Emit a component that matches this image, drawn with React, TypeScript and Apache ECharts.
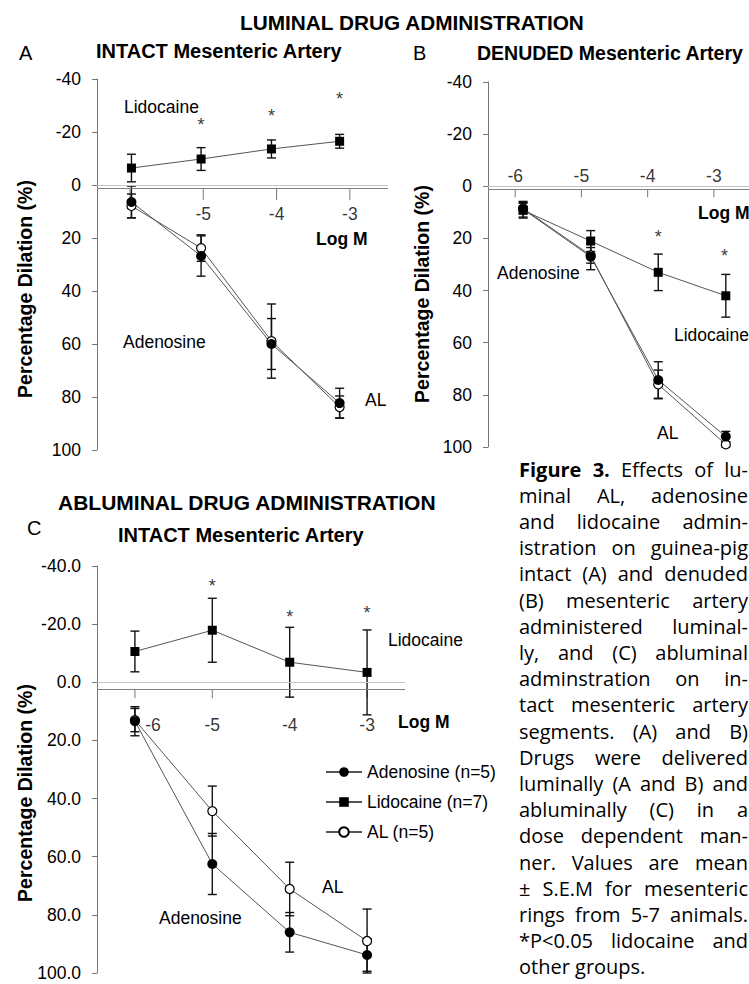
import React, { useEffect, useRef } from 'react';
import * as echarts from 'echarts';

const FONT = '"Liberation Sans", Arial, Helvetica, sans-serif';
const CAPTION_FONT = '"Open Sans", "Noto Sans", sans-serif';

const Y_MIN = -40;
const Y_MAX = 100;
const Y_STEP = 20;
const X_TICKS = [-6, -5, -4, -3];
const X_LABELS_A = [-5, -4, -3];
const X_LABELS_BC = [-6, -5, -4, -3];
// value of the y scale at which each panel's x axis line crosses
const AXIS_CROSS = [1.1, 1.15, 2.4];

// Panel A: luminal, intact
const A_X = [-5.98, -5.03, -4.07, -3.14];
const A_LIDO = [-6.4, -9.8, -13.6, -16.5];
const A_LIDO_ERR = [5.2, 4.3, 3.4, 2.6];
const A_ADEN = [6.4, 26.8, 60.0, 82.3];
const A_ADEN_ERR = [6.0, 7.6, 9.6, 5.6];
const A_AL = [7.9, 23.8, 58.9, 83.8];
const A_AL_ERR = [4.5, 5.0, 14.0, 4.2];
const A_STARS = [[-5.03, -24.2], [-4.07, -27.5], [-3.14, -34.0]];

// Panel B: luminal, denuded
const B_X = [-5.88, -4.86, -3.84, -2.82];
const B_LIDO = [9.2, 21.0, 33.0, 42.0];
const B_LIDO_ERR = [3.0, 4.0, 7.0, 8.2];
const B_ADEN = [8.8, 27.0, 74.3, 96.0];
const B_ADEN_ERR = [3.0, 5.0, 7.0, 2.0];
const B_AL = [8.5, 26.5, 76.0, 99.0];
const B_AL_ERR = [2.0, 3.0, 5.5, 1.0];
const B_STARS = [[-3.84, 18.0], [-2.84, 25.3]];

// Panel C: abluminal, intact
const C_X = [-6, -5, -4, -3];
const C_LIDO = [-10.6, -17.9, -6.9, -3.4];
const C_LIDO_ERR = [7.0, 11.0, 12.0, 14.6];
const C_ADEN = [13.4, 62.5, 86.0, 93.8];
const C_ADEN_ERR = [5.0, 10.5, 6.8, 5.6];
const C_AL = [13.0, 44.3, 71.1, 89.0];
const C_AL_ERR = [4.0, 8.6, 9.2, 11.0];
const C_STARS = [[-5, -34.4], [-4, -23.7], [-3, -25.1]];

const LEGEND_NAMES = ['Adenosine (n=5)', 'Lidocaine (n=7)', 'AL (n=5)'];

const CAPTION_LINES = [
  'Figure 3. Effects of lu-',
  'minal AL, adenosine',
  'and lidocaine admin-',
  'istration on guinea-pig',
  'intact (A) and denuded',
  '(B) mesenteric artery',
  'administered luminal-',
  'ly, and (C) abluminal',
  'adminstration on in-',
  'tact mesenteric artery',
  'segments. (A) and B)',
  'Drugs were delivered',
  'luminally (A and B) and',
  'abluminally (C) in a',
  'dose dependent man-',
  'ner. Values are mean',
  '± S.E.M for mesenteric',
  'rings from 5-7 animals.',
  '*P<0.05 lidocaine and',
  'other groups.',
];
const CAPTION_BOLD_WORDS = 2;

const pairs = (xs: number[], ys: number[]) => xs.map((x, i) => [x, ys[i]]);
const triples = (xs: number[], ys: number[], es: number[]) => xs.map((x, i) => [x, ys[i], es[i]]);

function errorBarSeries(p: number, data: number[][]) {
  return {
    type: 'custom',
    xAxisIndex: p,
    yAxisIndex: p,
    data,
    encode: { x: 0, y: 1 },
    silent: true,
    z: 2,
    renderItem: (_params: any, api: any) => {
      const x = api.value(0);
      const y = api.value(1);
      const e = api.value(2);
      const p1 = api.coord([x, y - e]);
      const p2 = api.coord([x, y + e]);
      const cap = 4.5;
      const st = { stroke: '#111', lineWidth: 1.4 };
      return {
        type: 'group',
        children: [
          { type: 'line', shape: { x1: p1[0], y1: p1[1], x2: p2[0], y2: p2[1] }, style: st },
          { type: 'line', shape: { x1: p1[0] - cap, y1: p1[1], x2: p1[0] + cap, y2: p1[1] }, style: st },
          { type: 'line', shape: { x1: p2[0] - cap, y1: p2[1], x2: p2[0] + cap, y2: p2[1] }, style: st },
        ],
      };
    },
  };
}

// x-axis tick marks drawn at the crossing value, hanging downward
function tickSeries(p: number, len: number) {
  return {
    type: 'custom',
    xAxisIndex: p,
    yAxisIndex: p,
    data: X_TICKS.map((t) => [t, AXIS_CROSS[p]]),
    encode: { x: 0, y: 1 },
    silent: true,
    z: 1,
    renderItem: (_params: any, api: any) => {
      const c = api.coord([api.value(0), api.value(1)]);
      return {
        type: 'line',
        shape: { x1: c[0], y1: c[1], x2: c[0], y2: c[1] + len },
        style: { stroke: '#777', lineWidth: 1 },
      };
    },
  };
}

// x-axis tick labels positioned on the crossing line
function tickLabelSeries(p: number, labels: number[], dy: number, firstDx = 0) {
  return {
    type: 'scatter',
    xAxisIndex: p,
    yAxisIndex: p,
    symbolSize: 1,
    itemStyle: { color: 'rgba(0,0,0,0)' },
    silent: true,
    z: 5,
    data: labels.map((t, i) => ({
      value: [t, AXIS_CROSS[p]],
      label: { offset: [i === 0 ? firstDx : 0, dy] },
    })),
    label: {
      show: true,
      position: 'inside',
      formatter: (d: any) => String(d.value[0]),
      fontSize: 17.5,
      fontFamily: FONT,
      color: '#000',
    },
  };
}

function lineSeries(p: number, name: string, data: number[][], kind: string, axisLines = false) {
  const base: any = {
    type: 'line',
    name,
    xAxisIndex: p,
    yAxisIndex: p,
    data,
    z: 3,
    silent: true,
    lineStyle: { color: '#555', width: 1 },
  };
  if (axisLines) {
    base.markLine = {
      silent: true,
      symbol: 'none',
      label: { show: false },
      data: [
        { yAxis: 0, lineStyle: { color: '#c4c4c4', width: 1, type: 'solid' } },
        { yAxis: AXIS_CROSS[p], lineStyle: { color: '#808080', width: 1, type: 'solid' } },
      ],
    };
  }
  if (kind === 'aden') return { ...base, symbol: 'circle', symbolSize: 10, itemStyle: { color: '#000' } };
  if (kind === 'lido') return { ...base, symbol: 'rect', symbolSize: 9, itemStyle: { color: '#000' } };
  return { ...base, symbol: 'circle', symbolSize: 9, itemStyle: { color: '#fff', borderColor: '#000', borderWidth: 1.2 } };
}

function starSeries(p: number, data: number[][]) {
  return {
    type: 'scatter',
    xAxisIndex: p,
    yAxisIndex: p,
    data,
    symbolSize: 1,
    itemStyle: { color: 'rgba(0,0,0,0)' },
    silent: true,
    z: 4,
    label: {
      show: true,
      position: 'inside',
      formatter: '*',
      fontSize: 18,
      fontFamily: FONT,
      color: '#000',
      offset: [0, 4],
    },
  };
}

function xAxisOpt(p: number, min: number, max: number) {
  return {
    gridIndex: p,
    type: 'value',
    min,
    max,
    axisLine: { show: false },
    axisTick: { show: false },
    axisLabel: { show: false },
    splitLine: { show: false },
  };
}

function yAxisOpt(p: number, decimals: number) {
  return {
    gridIndex: p,
    type: 'value',
    inverse: true,
    min: Y_MIN,
    max: Y_MAX,
    interval: Y_STEP,
    position: 'left',
    axisLine: { show: true, onZero: false, lineStyle: { color: '#777', width: 1 } },
    axisTick: { show: true, length: 5, lineStyle: { color: '#777' } },
    axisLabel: {
      margin: 16,
      fontSize: 17.5,
      fontFamily: FONT,
      color: '#000',
      formatter: (v: number) => v.toFixed(decimals),
    },
    splitLine: { show: false },
  };
}

function txt(text: string, x: number, y: number, size: number, bold: boolean, extra: any = {}, family = FONT, align = 'left') {
  return {
    type: 'text',
    x,
    y,
    silent: true,
    ...extra,
    style: {
      text,
      fill: '#000',
      fontSize: size,
      fontFamily: family,
      fontWeight: bold ? 'bold' : 'normal',
      align,
      verticalAlign: 'middle',
      textAlign: align,
      textVerticalAlign: 'middle',
    },
  };
}

export default function App() {
  const ref = useRef<HTMLDivElement>(null);

  useEffect(() => {
    if (!ref.current) return;
    const chart = echarts.init(ref.current, null, { renderer: 'svg' });

    const graphics: any[] = [
      txt('LUMINAL DRUG ADMINISTRATION', 240, 22, 20.8, true),
      txt('A', 19, 53, 20, false),
      txt('INTACT Mesenteric Artery', 96, 51, 20, true),
      txt('B', 413, 53, 20, false),
      txt('DENUDED Mesenteric Artery', 477, 53, 19.5, true),
      txt('ABLUMINAL DRUG ADMINISTRATION', 58, 502, 21, true),
      txt('C', 27, 528, 20, false),
      txt('INTACT Mesenteric Artery', 118, 535, 20, true),
      txt('Percentage Dilation (%)', 25, 289, 19.5, true, { rotation: Math.PI / 2 }, FONT, 'center'),
      txt('Percentage Dilation (%)', 422, 294, 19.5, true, { rotation: Math.PI / 2 }, FONT, 'center'),
      txt('Percentage Dilation (%)', 25, 793, 19.5, true, { rotation: Math.PI / 2 }, FONT, 'center'),
      // panel A annotations
      txt('Lidocaine', 124, 107, 17.5, false),
      txt('Adenosine', 123, 342, 17.5, false),
      txt('AL', 365, 400, 17.5, false),
      txt('Log M', 316, 239, 17.5, true),
      // panel B annotations
      txt('Adenosine', 497, 273, 17.5, false),
      txt('Lidocaine', 674, 335, 17.5, false),
      txt('AL', 657, 433, 17.5, false),
      txt('Log M', 698, 213, 17.5, true),
      // panel C annotations
      txt('Lidocaine', 388, 640, 17.5, false),
      txt('Log M', 398, 722, 17.5, true),
      txt('AL', 322, 887, 17.5, false),
      txt('Adenosine', 159, 918, 17.5, false),
    ];

    // caption, justified line by line
    const CAP_SIZE = 20;
    const CAP_LEFT = 519;
    const CAP_RIGHT = 748;
    const CAP_TOP = 469;
    const CAP_LH = 26.2;
    const ctx = document.createElement('canvas').getContext('2d') as CanvasRenderingContext2D;
    const meas = (t: string, bold: boolean) => {
      ctx.font = `${bold ? 'bold' : 'normal'} ${CAP_SIZE}px ${CAPTION_FONT}`;
      return ctx.measureText(t).width;
    };
    CAPTION_LINES.forEach((line, i) => {
      const words = line.split(' ');
      const bolds = words.map((_, j) => i === 0 && j < CAPTION_BOLD_WORDS);
      const widths = words.map((w, j) => meas(w, bolds[j]));
      const total = widths.reduce((a, b) => a + b, 0);
      const last = i === CAPTION_LINES.length - 1;
      const gap = last || words.length < 2 ? meas(' ', false) : (CAP_RIGHT - CAP_LEFT - total) / (words.length - 1);
      let x = CAP_LEFT;
      const y = CAP_TOP + i * CAP_LH;
      words.forEach((w, j) => {
        graphics.push(txt(w, x, y, CAP_SIZE, bolds[j], {}, CAPTION_FONT));
        x += widths[j] + gap;
      });
    });

    const series: any[] = [
      // A
      tickSeries(0, 12),
      tickLabelSeries(0, X_LABELS_A, 26),
      errorBarSeries(0, triples(A_X, A_AL, A_AL_ERR)),
      errorBarSeries(0, triples(A_X, A_ADEN, A_ADEN_ERR)),
      errorBarSeries(0, triples(A_X, A_LIDO, A_LIDO_ERR)),
      lineSeries(0, 'A AL', pairs(A_X, A_AL), 'al'),
      lineSeries(0, 'A Adenosine', pairs(A_X, A_ADEN), 'aden'),
      lineSeries(0, 'A Lidocaine', pairs(A_X, A_LIDO), 'lido', true),
      starSeries(0, A_STARS),
      // B
      tickSeries(1, 8),
      tickLabelSeries(1, X_LABELS_BC, -13),
      errorBarSeries(1, triples(B_X, B_AL, B_AL_ERR)),
      errorBarSeries(1, triples(B_X, B_ADEN, B_ADEN_ERR)),
      errorBarSeries(1, triples(B_X, B_LIDO, B_LIDO_ERR)),
      lineSeries(1, 'B AL', pairs(B_X, B_AL), 'al'),
      lineSeries(1, 'B Adenosine', pairs(B_X, B_ADEN), 'aden'),
      lineSeries(1, 'B Lidocaine', pairs(B_X, B_LIDO), 'lido', true),
      starSeries(1, B_STARS),
      // C
      tickSeries(2, 9),
      tickLabelSeries(2, X_LABELS_BC, 36, 18),
      errorBarSeries(2, triples(C_X, C_AL, C_AL_ERR)),
      errorBarSeries(2, triples(C_X, C_ADEN, C_ADEN_ERR)),
      errorBarSeries(2, triples(C_X, C_LIDO, C_LIDO_ERR)),
      lineSeries(2, LEGEND_NAMES[2], pairs(C_X, C_AL), 'al'),
      lineSeries(2, LEGEND_NAMES[0], pairs(C_X, C_ADEN), 'aden'),
      lineSeries(2, LEGEND_NAMES[1], pairs(C_X, C_LIDO), 'lido', true),
      starSeries(2, C_STARS),
    ];

    const option: any = {
      animation: false,
      backgroundColor: '#fff',
      textStyle: { fontFamily: FONT },
      grid: [
        { left: 97, top: 79, width: 291, height: 371 },
        { left: 488, top: 82, width: 261, height: 365 },
        { left: 97, top: 566, width: 308, height: 407 },
      ],
      xAxis: [xAxisOpt(0, -6.45, -2.48), xAxisOpt(1, -6.41, -2.47), xAxisOpt(2, -6.49, -2.51)],
      yAxis: [yAxisOpt(0, 0), yAxisOpt(1, 0), yAxisOpt(2, 1)],
      legend: {
        data: LEGEND_NAMES,
        orient: 'vertical',
        left: 320,
        top: 758,
        itemWidth: 36,
        itemHeight: 12,
        itemGap: 12,
        textStyle: { fontSize: 17.5, fontFamily: FONT, color: '#000' },
        selectedMode: false,
      },
      graphic: graphics,
      series,
    };

    chart.setOption(option);
    return () => chart.dispose();
  }, []);

  return (
    <div
      ref={ref}
      style={{ position: 'fixed', left: 0, top: 0, width: 749, height: 984, background: '#fff' }}
    />
  );
}
